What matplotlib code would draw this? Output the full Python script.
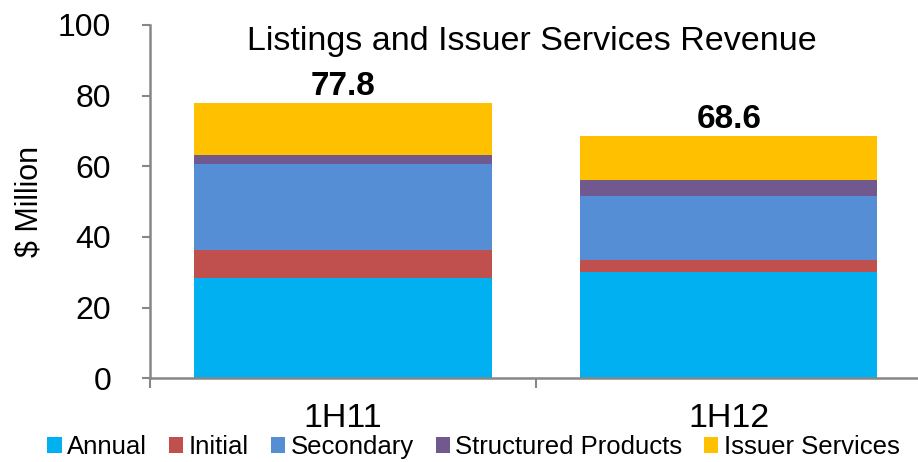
import matplotlib
matplotlib.use("Agg")
import matplotlib.pyplot as plt
from matplotlib.ticker import FixedLocator
import numpy as np

plt.rcParams['font.family'] = ['Liberation Sans', 'DejaVu Sans']

categories = ["1H11", "1H12"]
series_names = ["Annual", "Initial", "Secondary", "Structured Products", "Issuer Services"]
annual = [28.4, 30.1]
initial = [7.9, 3.3]
secondary = [24.3, 18.2]
structured = [2.7, 4.4]
issuer = [14.5, 12.6]
totals = [77.8, 68.6]
colors = ["#00B0F0", "#C0504D", "#558ED5", "#71588F", "#FFC000"]

fig = plt.figure(figsize=(9.18, 4.62), dpi=100)
ax = fig.add_axes([150/918, 1-378.3/462, 1-150/918, (378.3-25)/462])

x = np.arange(len(categories))
bottom = np.zeros(len(categories))
for name, vals, c in zip(series_names, [annual, initial, secondary, structured, issuer], colors):
    ax.bar(x, vals, width=0.77, bottom=bottom, color=c, label=name, zorder=2)
    bottom += np.array(vals)

for xi, t in zip(x, totals):
    ax.annotate(f"{t:.1f}", (xi, t), xytext=(0, 1), textcoords="offset points",
                ha="center", va="bottom", fontsize=24, fontweight="bold")

ax.set_xlim(-0.5, 1.49)
ax.set_ylim(0, 100)
ax.set_yticks([0, 20, 40, 60, 80, 100])
ax.set_xticks(x)
ax.set_xticklabels(categories)
ax.xaxis.set_minor_locator(FixedLocator([-0.5, 0.5, 1.5]))
ax.tick_params(axis="x", which="major", length=0, pad=18, labelsize=24.5)
ax.tick_params(axis="x", which="minor", length=7, width=1.5, color="#878787", direction="out")
ax.tick_params(axis="y", length=6, width=1.5, color="#878787", direction="out", pad=22, labelsize=23)

for s in ["top", "right"]:
    ax.spines[s].set_visible(False)
for s in ["left", "bottom"]:
    ax.spines[s].set_color("#878787")
    ax.spines[s].set_linewidth(1.8)
ax.spines["bottom"].set_zorder(3)

ax.set_ylabel("$ Million", fontsize=22)
ax.yaxis.set_label_coords(-0.138, 0.50)

ax.text(0.497, 0.952, "Listings and Issuer Services Revenue", transform=ax.transAxes,
        ha="center", va="center", fontsize=24.5)

fig.legend(loc="center", bbox_to_anchor=(0.516, 0.032), ncol=5, frameon=False,
           fontsize=18.5, handlelength=0.55, handleheight=0.55, handletextpad=0.22,
           columnspacing=0.85, borderaxespad=0, borderpad=0)

fig.savefig("out.png", dpi=100)
